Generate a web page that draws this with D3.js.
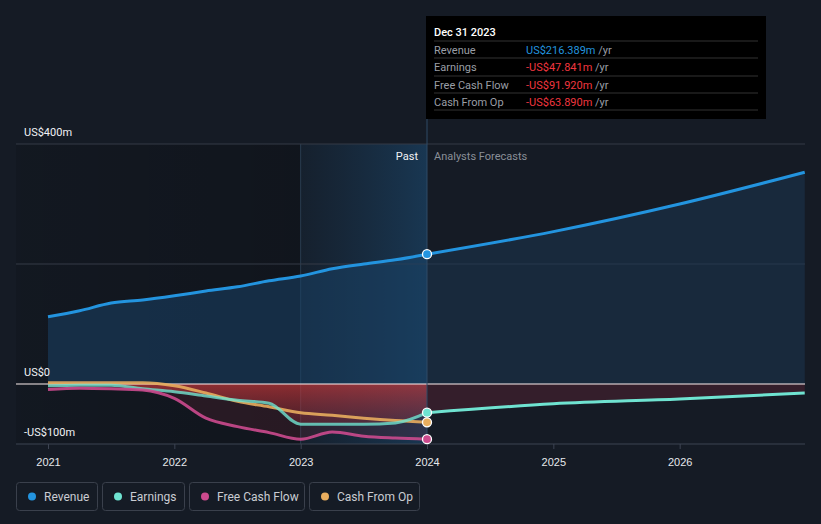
<!DOCTYPE html>
<html lang="en">
<head>
  <meta charset="UTF-8" />
  <script src="https://cdn.jsdelivr.net/npm/d3@7/dist/d3.min.js"></script>
  <style>
    html, body { margin: 0; padding: 0; background: #151b25; }
    svg { display: block; font-family: Roboto, "Open Sans", sans-serif; }
  </style>
</head>
<body>
  <svg width="821" height="524"></svg>
  <script>
    // data (US$ m)
    const pastYears = [2021, 2021.25, 2021.5, 2021.75, 2022, 2022.25, 2022.5, 2022.75, 2023, 2023.25, 2023.5, 2023.75, 2024];
    const revenuePast = [112, 122, 135, 140, 147, 155, 162, 172, 180, 192, 200, 207, 216.389];
    const earningsPast = [-3, -2, -2, -8, -13, -20, -27, -32, -67, -67, -67, -65, -47.841];
    const fcfPast = [-9, -7, -8, -10, -24, -57, -71, -81, -92, -80, -87, -90, -91.92];
    const cfoPast = [2, 2, 2, 2, -3, -15, -29, -38, -48, -52, -57, -61, -63.89];

    const forecastYears = [2024, 2025, 2026, 2026.99];
    const revenueForecast = [216.389, 254, 300, 353];
    const earningsForecast = [-47.841, -33, -25, -15];

    const yearTicks = [2021, 2022, 2023, 2024, 2025, 2026];
    const yLabels = [{ v: 400, t: "US$400m" }, { v: 0, t: "US$0" }, { v: -100, t: "-US$100m" }];

    const series = [
      { name: "Revenue", color: "#2394df" },
      { name: "Earnings", color: "#6fe3d1" },
      { name: "Free Cash Flow", color: "#cc4a8e" },
      { name: "Cash From Op", color: "#e8ad5e" }
    ];
    const tooltipRows = [
      { label: "Revenue", value: "US$216.389m", color: "#2394df" },
      { label: "Earnings", value: "-US$47.841m", color: "#f0363f" },
      { label: "Free Cash Flow", value: "-US$91.920m", color: "#f0363f" },
      { label: "Cash From Op", value: "-US$63.890m", color: "#f0363f" }
    ];

    const svg = d3.select("svg");
    const left = 16, right = 805;
    const x = d3.scaleLinear().domain([2021, 2024]).range([48, 427]);
    const y = d3.scaleLinear().domain([-100, 400]).range([444, 144]);
    const xNow = x(2024);

    const defs = svg.append("defs");
    const pastShade = defs.append("linearGradient").attr("id", "pastShade");
    pastShade.append("stop").attr("offset", "0%").attr("stop-color", "#000").attr("stop-opacity", 0.12);
    pastShade.append("stop").attr("offset", "100%").attr("stop-color", "#000").attr("stop-opacity", 0.22);
    const band = defs.append("linearGradient").attr("id", "band");
    band.append("stop").attr("offset", "0%").attr("stop-color", "#1d5d8f").attr("stop-opacity", 0.08);
    band.append("stop").attr("offset", "100%").attr("stop-color", "#1f6aa6").attr("stop-opacity", 0.35);
    const red = defs.append("linearGradient").attr("id", "red")
      .attr("gradientUnits", "userSpaceOnUse").attr("x1", 0).attr("x2", 0).attr("y1", y(0)).attr("y2", y(-100));
    red.append("stop").attr("offset", "0%").attr("stop-color", "#d23a3a").attr("stop-opacity", 0.6);
    red.append("stop").attr("offset", "100%").attr("stop-color", "#8a2a3a").attr("stop-opacity", 0.12);

    // past shading and last-year band
    svg.append("rect").attr("x", left).attr("y", y(400)).attr("width", x(2023) - left)
      .attr("height", y(-100) - y(400)).attr("fill", "url(#pastShade)");
    svg.append("rect").attr("x", x(2023)).attr("y", y(400)).attr("width", xNow - x(2023))
      .attr("height", y(-100) - y(400)).attr("fill", "url(#band)");
    svg.append("line").attr("x1", x(2023)).attr("x2", x(2023)).attr("y1", y(400)).attr("y2", y(-100))
      .attr("stroke", "#2a3c50").attr("stroke-width", 1);

    // gridlines
    [400, 200].forEach(v => {
      svg.append("line").attr("x1", left).attr("x2", right).attr("y1", y(v)).attr("y2", y(v))
        .attr("stroke", "#343b47").attr("stroke-width", 1);
    });

    const past = pastYears.map((t, i) => ({ t, rev: revenuePast[i], earn: earningsPast[i], fcf: fcfPast[i], cfo: cfoPast[i] }));
    const fut = forecastYears.map((t, i) => ({ t, rev: revenueForecast[i], earn: earningsForecast[i] }));
    const curve = d3.curveMonotoneX;
    const area = key => d3.area().x(d => x(d.t)).y0(y(0)).y1(d => y(d[key])).curve(curve);
    const line = key => d3.line().x(d => x(d.t)).y(d => y(d[key])).curve(curve);

    // area fills
    svg.append("path").datum(past).attr("d", area("rev")).attr("fill", "#1a4266").attr("fill-opacity", 0.55);
    svg.append("path").datum(fut).attr("d", area("rev")).attr("fill", "#1c3550").attr("fill-opacity", 0.55);
    svg.append("path").datum(past).attr("d", area("fcf")).attr("fill", "#7a2a3c").attr("fill-opacity", 0.22);
    svg.append("path").datum(past).attr("d", area("earn")).attr("fill", "url(#red)");
    svg.append("path").datum(fut).attr("d", area("earn")).attr("fill", "#4a2230").attr("fill-opacity", 0.6);

    // zero line and axis
    svg.append("line").attr("x1", left).attr("x2", right).attr("y1", y(0)).attr("y2", y(0))
      .attr("stroke", "#fbeeee").attr("stroke-width", 1.2);

    const axis = svg.append("g").attr("transform", `translate(0,${y(-100)})`)
      .call(d3.axisBottom(x).tickValues(yearTicks).tickFormat(d3.format("d")).tickSize(5).tickSizeOuter(0));
    axis.select(".domain").attr("stroke", "#3d4452").attr("d", `M${left},0H${right}`);
    axis.selectAll(".tick line").attr("stroke", "#3d4452");
    axis.selectAll(".tick text").attr("fill", "#e6e8ec").attr("font-size", 11).attr("dy", "1.25em");

    // series lines
    const s = Object.fromEntries(series.map(d => [d.name, d.color]));
    svg.append("path").datum(past).attr("d", line("cfo")).attr("fill", "none").attr("stroke", s["Cash From Op"]).attr("stroke-width", 3).attr("stroke-opacity", 0.9);
    svg.append("path").datum(past).attr("d", line("earn")).attr("fill", "none").attr("stroke", s["Earnings"]).attr("stroke-width", 3).attr("stroke-opacity", 0.8);
    svg.append("path").datum(past).attr("d", line("fcf")).attr("fill", "none").attr("stroke", s["Free Cash Flow"]).attr("stroke-width", 3).attr("stroke-opacity", 0.9);
    svg.append("path").datum(fut).attr("d", line("earn")).attr("fill", "none").attr("stroke", s["Earnings"]).attr("stroke-width", 3);
    svg.append("path").datum(past).attr("d", line("rev")).attr("fill", "none").attr("stroke", s["Revenue"]).attr("stroke-width", 3);
    svg.append("path").datum(fut).attr("d", line("rev")).attr("fill", "none").attr("stroke", s["Revenue"]).attr("stroke-width", 3);

    // hover line
    svg.append("line").attr("x1", xNow).attr("x2", xNow).attr("y1", 119).attr("y2", y(-100))
      .attr("stroke", "#2e4a66").attr("stroke-width", 1);

    // end points
    const last = past[past.length - 1];
    [["rev", "Revenue"], ["earn", "Earnings"], ["cfo", "Cash From Op"], ["fcf", "Free Cash Flow"]].forEach(([k, n]) => {
      svg.append("circle").attr("cx", xNow).attr("cy", y(last[k])).attr("r", 4.5)
        .attr("fill", s[n]).attr("stroke", "#fff").attr("stroke-width", 1.3);
    });

    // y labels
    yLabels.forEach(d => {
      svg.append("text").attr("x", 24).attr("y", y(d.v) - 8).attr("fill", "#f0f2f5")
        .attr("font-size", 11).text(d.t);
    });

    svg.append("text").attr("x", xNow - 9).attr("y", 160).attr("text-anchor", "end")
      .attr("fill", "#f0f2f5").attr("font-size", 11).text("Past");
    svg.append("text").attr("x", xNow + 7).attr("y", 160)
      .attr("fill", "#8a8f98").attr("font-size", 11).text("Analysts Forecasts");

    // tooltip
    const tip = svg.append("g");
    tip.append("rect").attr("x", 426).attr("y", 16).attr("width", 340).attr("height", 103).attr("fill", "#000");
    tip.append("text").attr("x", 434).attr("y", 36).attr("fill", "#fff").attr("font-size", 11)
      .attr("font-weight", 500).text("Dec 31 2023");
    const rowY = [41, 58, 76, 93, 110];
    rowY.forEach(ry => tip.append("line").attr("x1", 434).attr("x2", 758).attr("y1", ry).attr("y2", ry)
      .attr("stroke", "#333").attr("stroke-width", 1));
    tooltipRows.forEach((r, i) => {
      const ty = (rowY[i] + rowY[i + 1]) / 2 + 4;
      tip.append("text").attr("x", 434).attr("y", ty).attr("fill", "#9a9ea6").attr("font-size", 11).text(r.label);
      const t = tip.append("text").attr("x", 526).attr("y", ty).attr("font-size", 11);
      t.append("tspan").attr("fill", r.color).text(r.value);
      t.append("tspan").attr("fill", "#9a9ea6").text(" /yr");
    });

    // legend
    const legendX = [16, 102, 189, 309];
    const legendW = [81, 82, 115, 110];
    series.forEach((d, i) => {
      const g = svg.append("g").attr("transform", `translate(${legendX[i]},482)`);
      g.append("rect").attr("x", 0.5).attr("y", 0.5).attr("width", legendW[i]).attr("height", 28).attr("rx", 3)
        .attr("fill", "none").attr("stroke", "#3a404c");
      g.append("circle").attr("cx", 16).attr("cy", 14.5).attr("r", 4).attr("fill", d.color);
      g.append("text").attr("x", 28).attr("y", 18.5).attr("fill", "#c9ccd2").attr("font-size", 12).text(d.name);
    });
  </script>
</body>
</html>
